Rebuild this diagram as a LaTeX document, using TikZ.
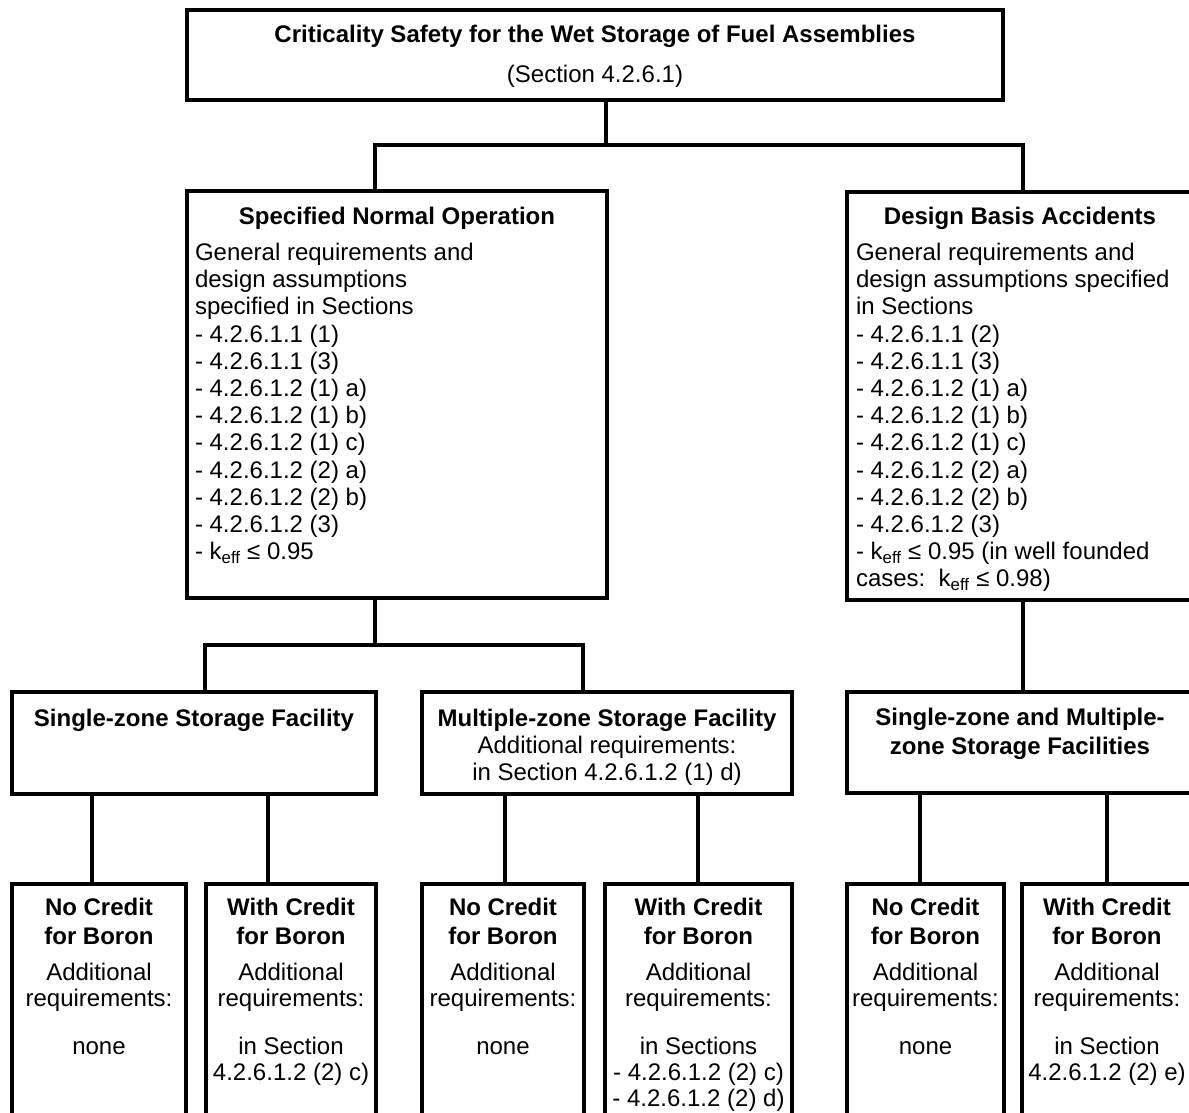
\documentclass[tikz,border=0pt]{standalone}
\usepackage{fontspec}
\setmainfont{Liberation Sans}
\begin{document}
\begin{tikzpicture}[x=1pt,y=-1pt,
  box/.style={draw, line width=3.3pt, inner sep=0pt, outer sep=0pt, rectangle, anchor=north west},
  conn/.style={line width=3.3pt},
  txt/.style={inner sep=0pt, outer sep=0pt, font=\fontsize{24}{27.2}\selectfont},
  ttl/.style={inner sep=0pt, outer sep=0pt, font=\fontsize{24}{28.6}\selectfont\bfseries},
  body/.style={inner sep=0pt, outer sep=0pt, font=\fontsize{24}{25.8}\selectfont}]
\clip (0,0) rectangle (1189,1113);
\fill[white] (0,0) rectangle (1189,1113);
% boxes
\node[box, minimum width=816pt, minimum height=90pt] (top) at (187,10) {};
\node[box, minimum width=420pt, minimum height=407pt] (sno) at (187,191) {};
\node[box, minimum width=346pt, minimum height=408pt] (dba) at (847,192) {};
\node[box, minimum width=364pt, minimum height=102pt] (sz) at (12,692) {};
\node[box, minimum width=370pt, minimum height=102pt] (mz) at (422,692) {};
\node[box, minimum width=346pt, minimum height=101pt] (szmz) at (847,692) {};
\node[box, minimum width=174pt, minimum height=260pt] (b1) at (12,884) {};
\node[box, minimum width=170pt, minimum height=260pt] (b2) at (206,884) {};
\node[box, minimum width=162pt, minimum height=260pt] (b3) at (422,884) {};
\node[box, minimum width=187pt, minimum height=260pt] (b4) at (605,884) {};
\node[box, minimum width=157pt, minimum height=260pt] (b5) at (847,884) {};
\node[box, minimum width=170pt, minimum height=260pt] (b6) at (1022,884) {};
% junction coordinates
\coordinate (j0) at (606,145);
\coordinate (hL) at (375,145);
\coordinate (hR) at (1023,145);
\coordinate (m1) at (375,645);
\coordinate (mL) at (205,645);
\coordinate (mR) at (583,645);
\coordinate (x1) at (92,0);
\coordinate (x2) at (268,0);
\coordinate (x3) at (505,0);
\coordinate (x4) at (698,0);
\coordinate (x5) at (920,0);
\coordinate (x6) at (1107,0);
% connectors
\draw[conn] (top.south -| j0) -- (j0);
\draw[conn] (sno.north -| hL) |- (hR) -- (dba.north -| hR);
\draw[conn] (sno.south -| m1) -- (m1);
\draw[conn] (sz.north -| mL) |- (mR) -- (mz.north -| mR);
\draw[conn] (dba.south -| hR) -- (szmz.north -| hR);
\draw[conn] (sz.south -| x1) -- (b1.north -| x1);
\draw[conn] (sz.south -| x2) -- (b2.north -| x2);
\draw[conn] (mz.south -| x3) -- (b3.north -| x3);
\draw[conn] (mz.south -| x4) -- (b4.north -| x4);
\draw[conn] (szmz.south -| x5) -- (b5.north -| x5);
\draw[conn] (szmz.south -| x6) -- (b6.north -| x6);
% texts (anchor base = baseline of the last line)
\node[ttl, anchor=base] (tt1) at (595,42.5) {Criticality Safety for the Wet Storage of Fuel Assemblies};
\node[txt, anchor=base] (tt2) at (595,82.5) {(Section 4.2.6.1)};
\node[ttl, anchor=base] (snot) at (397,224.5) {Specified Normal Operation};
\node[txt, anchor=base west, align=left] (snob) at (195,559.7) {General requirements and\\design assumptions\\specified in Sections\\- 4.2.6.1.1 (1)\\- 4.2.6.1.1 (3)\\- 4.2.6.1.2 (1) a)\\- 4.2.6.1.2 (1) b)\\- 4.2.6.1.2 (1) c)\\- 4.2.6.1.2 (2) a)\\- 4.2.6.1.2 (2) b)\\- 4.2.6.1.2 (3)\\- k\textsubscript{eff} ≤ 0.95};
\node[ttl, anchor=base] (dbat) at (1020,224.5) {Design Basis Accidents};
\node[txt, anchor=base west, align=left] (dbab) at (856,586.9) {General requirements and\\design assumptions specified\\in Sections\\- 4.2.6.1.1 (2)\\- 4.2.6.1.1 (3)\\- 4.2.6.1.2 (1) a)\\- 4.2.6.1.2 (1) b)\\- 4.2.6.1.2 (1) c)\\- 4.2.6.1.2 (2) a)\\- 4.2.6.1.2 (2) b)\\- 4.2.6.1.2 (3)\\- k\textsubscript{eff} ≤ 0.95 (in well founded\\cases:\ \ k\textsubscript{eff} ≤ 0.98)};
\node[ttl, anchor=base] (szt) at (194,726) {Single-zone Storage Facility};
\node[ttl, anchor=base] (mzt) at (607,726) {Multiple-zone Storage Facility};
\node[txt, anchor=base, align=center] (mzb) at (607,780.7) {Additional requirements:\\in Section 4.2.6.1.2 (1) d)};
\node[ttl, anchor=base, align=center] (szmzt) at (1020,754) {Single-zone and Multiple-\\zone Storage Facilities};
% bottom texts
\node[ttl, anchor=base, align=center] (b1t) at (99,944.5) {No Credit\\for Boron};
\node[body, anchor=base, align=center] (b1a) at (99,1006.3) {Additional\\requirements:};
\node[body, anchor=base, align=center] (b1c) at (99,1054.5) {none};
\node[ttl, anchor=base, align=center] (b2t) at (291,944.5) {With Credit\\for Boron};
\node[body, anchor=base, align=center] (b2a) at (291,1006.3) {Additional\\requirements:};
\node[body, anchor=base, align=center] (b2c) at (291,1080.5) {in Section\\4.2.6.1.2 (2) c)};
\node[ttl, anchor=base, align=center] (b3t) at (503,944.5) {No Credit\\for Boron};
\node[body, anchor=base, align=center] (b3a) at (503,1006.3) {Additional\\requirements:};
\node[body, anchor=base, align=center] (b3c) at (503,1054.5) {none};
\node[ttl, anchor=base, align=center] (b4t) at (698.5,944.5) {With Credit\\for Boron};
\node[body, anchor=base, align=center] (b4a) at (698.5,1006.3) {Additional\\requirements:};
\node[body, anchor=base, align=center] (b4c) at (698.5,1106.5) {in Sections\\- 4.2.6.1.2 (2) c)\\- 4.2.6.1.2 (2) d)};
\node[ttl, anchor=base, align=center] (b5t) at (925.5,944.5) {No Credit\\for Boron};
\node[body, anchor=base, align=center] (b5a) at (925.5,1006.3) {Additional\\requirements:};
\node[body, anchor=base, align=center] (b5c) at (925.5,1054.5) {none};
\node[ttl, anchor=base, align=center] (b6t) at (1107,944.5) {With Credit\\for Boron};
\node[body, anchor=base, align=center] (b6a) at (1107,1006.3) {Additional\\requirements:};
\node[body, anchor=base, align=center] (b6c) at (1107,1080.5) {in Section\\4.2.6.1.2 (2) e)};
\end{tikzpicture}
\end{document}
